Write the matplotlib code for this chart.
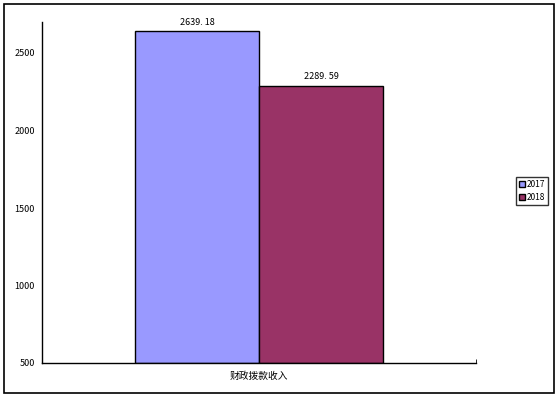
import matplotlib
matplotlib.use("Agg")
import matplotlib.pyplot as plt
from matplotlib.patches import Rectangle

plt.rcParams['font.family'] = ['Noto Sans CJK SC', 'DejaVu Sans']

category = "财政拨款收入"
years = ["2017", "2018"]
values = [2639.18, 2289.59]
colors = ["#9999ff", "#993366"]
label_text = ["2639. 18", "2289. 59"]
y_ticks = [500, 1000, 1500, 2000, 2500]


def main():
    fig = plt.figure(figsize=(5.6, 3.99), dpi=100)
    fig.patches.append(Rectangle((4 / 560, 6 / 399), 550 / 560, 389 / 399,
                                 transform=fig.transFigure, fill=False,
                                 edgecolor="black", linewidth=1.2))

    ax = fig.add_axes([42 / 560, 36 / 399, 434 / 560, 341 / 399])
    width = 0.286
    offsets = [-width / 2, width / 2]
    for i in range(len(years)):
        ax.bar(offsets[i], values[i] - 500, width, bottom=500, color=colors[i],
               edgecolor="black", linewidth=1, label=years[i])
        ax.annotate(label_text[i], (offsets[i], values[i]), xytext=(0, 3.5),
                    textcoords="offset points", ha="center", va="bottom",
                    fontsize=6.5)

    ax.set_xlim(-0.5, 0.5)
    ax.set_ylim(500, 2700)
    ax.set_yticks(y_ticks)
    ax.set_yticklabels([str(v) for v in y_ticks], fontsize=6.5)
    ax.tick_params(axis="y", length=0, pad=5)
    ax.set_xticks([0])
    ax.set_xticklabels([category], fontsize=7)
    ax.set_xticks([0.5], minor=True)
    ax.tick_params(axis="x", which="major", length=0, pad=6)
    ax.tick_params(axis="x", which="minor", length=3, direction="in")
    for s in ["top", "right"]:
        ax.spines[s].set_visible(False)
    for s in ["left", "bottom"]:
        ax.spines[s].set_linewidth(1)

    fig.legend(loc="center left", bbox_to_anchor=(516 / 560, (399 - 191) / 399),
               fontsize=6, frameon=True, fancybox=False, edgecolor="black",
               handlelength=0.7, handleheight=0.7, handletextpad=0.25,
               borderpad=0.35, labelspacing=0.55, borderaxespad=0)

    fig.savefig("out.png", dpi=100)


if __name__ == "__main__":
    main()
